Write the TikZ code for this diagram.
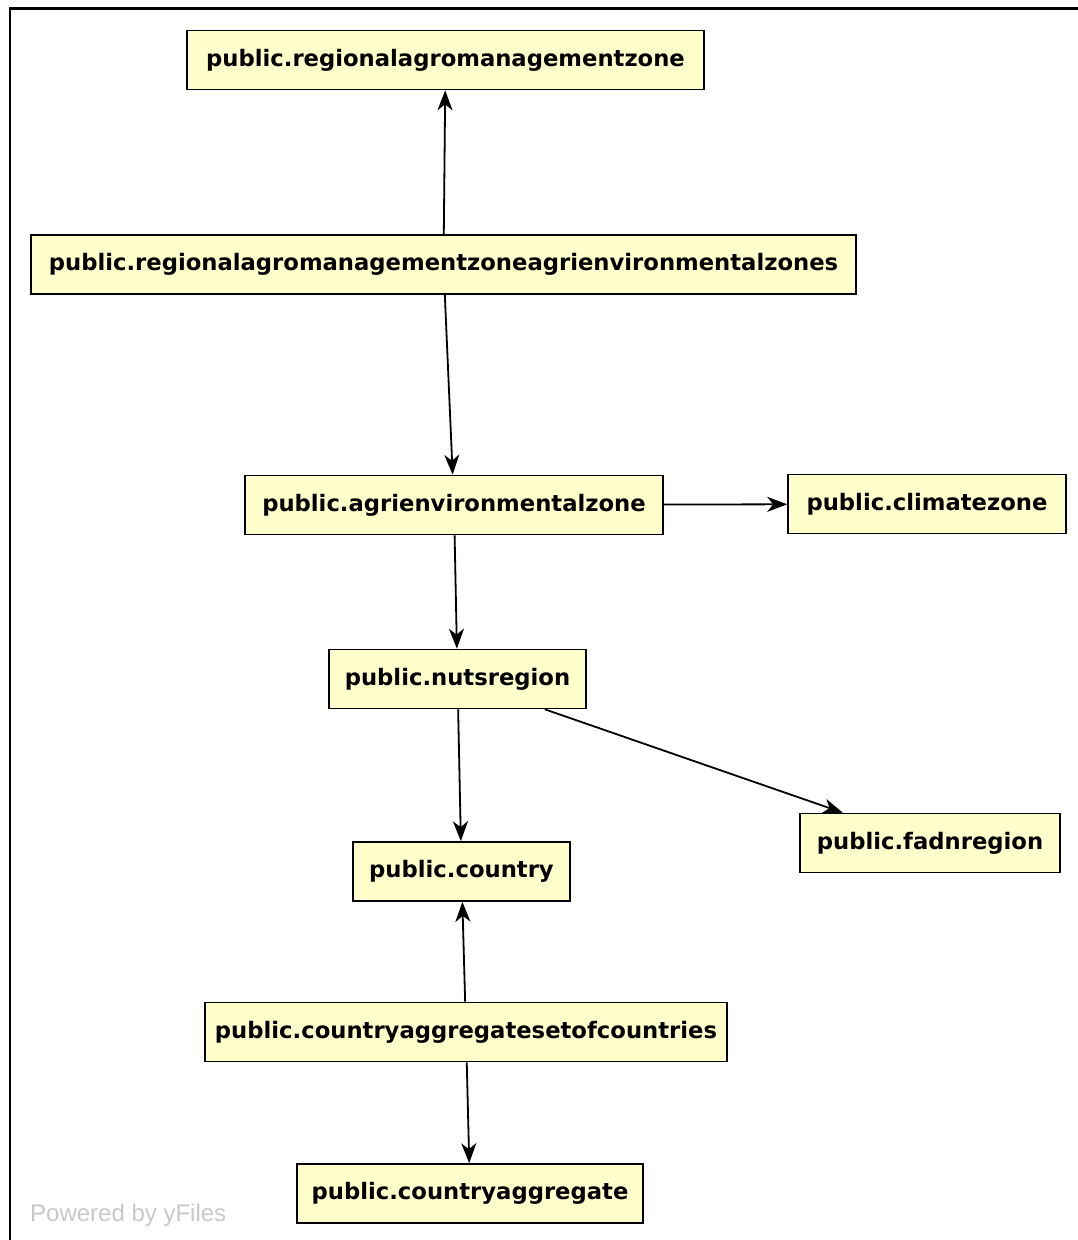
\documentclass[tikz,border=0pt]{standalone}
\usepackage{fontspec}
\usepackage{xcolor}
\usepackage{tikz}
\usetikzlibrary{arrows.meta,positioning}
\newfontfamily\boxfont{DejaVu Sans}
\newfontfamily\markfont{Liberation Sans}
\tikzset{
	-{Stealth[length=20pt,width=15pt,inset=6pt]},x=1pt,y=-1pt,
	every edge/.append style={line width=1.8pt},
	table/.style ={rectangle, draw, line width=1.6pt, fill=tableyellow, minimum height=59pt, inner sep=0pt, font=\boxfont\bfseries\fontsize{22.7}{27}\selectfont},
	frame/.style = {-, line width=2.6pt},
	stamp/.style = {anchor=base west, inner sep=0pt, text=markgray, font=\markfont\fontsize{24}{28}\selectfont}
}
\definecolor{tableyellow}{RGB}{255,255,204}
\definecolor{markgray}{RGB}{200,200,200}

\begin{document}
\begin{tikzpicture}
    \useasboundingbox (0,0) rectangle (1078,1240);
    \draw[frame] (10,1240) -- (10,8.7) -- (1078,8.7);

    \node[table, minimum width=517pt] (ramz) at (445.5,60) {public.regionalagromanagementzone};
    \node[table, minimum width=825pt] (ramzaz) at (443.5,264.5) {public.regionalagromanagementzoneagrienvironmentalzones};
    \node[table, minimum width=418pt] (aez) at (454,505) {public.agrienvironmentalzone};
    \node[table, minimum width=278pt] (cz) at (927,504) {public.climatezone};
    \node[table, minimum width=257pt] (nuts) at (457.5,679) {public.nutsregion};
    \node[table, minimum width=260pt] (fadn) at (930,843) {public.fadnregion};
    \node[table, minimum width=217pt] (cty) at (461.5,871.5) {public.country};
    \node[table, minimum width=522pt] (casc) at (466,1032) {public.countryaggregatesetofcountries};
    \node[table, minimum width=346pt] (ca) at (470,1193.5) {public.countryaggregate};

    \node[stamp] (yfiles) at (30,1221) {Powered by yFiles};

    \path (ramzaz) edge (ramz);
    \path (ramzaz) edge (aez);
    \path (aez) edge (cz);
    \path (aez) edge (nuts);
    \path (nuts) edge (fadn);
    \path (nuts) edge (cty);
    \path (casc) edge (cty);
    \path (casc) edge (ca);
    
    \end{tikzpicture}
\end{document}
